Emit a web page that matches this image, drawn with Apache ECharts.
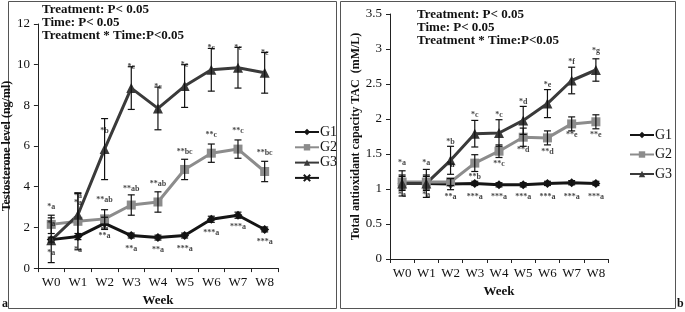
<!DOCTYPE html>
<html><head><meta charset="utf-8">
<script src="https://cdn.jsdelivr.net/npm/echarts@6/dist/echarts.min.js"></script>
<style>html,body{margin:0;padding:0;background:#fff}#c{width:685px;height:312px}</style>
</head><body><div id="c"></div>
<script>
const weeks = ['W0','W1','W2','W3','W4','W5','W6','W7','W8'];
// Left panel: testosterone (ng/ml)
const tG1 = [1.4, 1.55, 2.2, 1.6, 1.5, 1.6, 2.4, 2.6, 1.9];
const tG2 = [2.15, 2.3, 2.42, 3.1, 3.25, 4.85, 5.65, 5.85, 4.75];
const tG3 = [1.37, 2.62, 5.85, 8.85, 7.85, 8.95, 9.75, 9.85, 9.6];
const tG1err = [0.12, 0.15, 0.3, 0.12, 0.12, 0.12, 0.15, 0.15, 0.12];
const tG2err = [0.45, 1.4, 0.45, 0.5, 0.5, 0.5, 0.45, 0.45, 0.5];
const tG3err = [1.1, 1.05, 1.5, 1.05, 1.05, 1.05, 1.05, 1.0, 1.0];
const tLabels = [
  [0,3.0,'*a'],[0,2.15,'*a'],[0,0.75,'*a'],
  [1,3.55,'*a'],[1,3.2,'*a'],[1,0.9,'*a'],
  [2,3.35,'**ab'],[2,1.6,'**a'],[2,6.75,'*b'],
  [3,3.9,'**ab'],[3,0.95,'**a'],[3,9.9,'*c'],
  [4,4.15,'**ab'],[4,0.9,'**a'],[4,8.9,'*c'],
  [5,5.7,'**bc'],[5,0.95,'***a'],[5,10.0,'*c'],
  [6,6.55,'**c'],[6,1.75,'***a'],[6,10.8,'*c'],
  [7,6.75,'**c'],[7,2.0,'***a'],[7,10.8,'*c'],
  [8,5.65,'**bc'],[8,1.27,'***a'],[8,10.6,'*c']
];
// Right panel: TAC (mM/L)
const aG1 = [1.08, 1.08, 1.07, 1.08, 1.06, 1.06, 1.08, 1.09, 1.08];
const aG2 = [1.1, 1.1, 1.1, 1.37, 1.54, 1.74, 1.73, 1.93, 1.96];
const aG3 = [1.08, 1.08, 1.41, 1.79, 1.8, 1.98, 2.22, 2.55, 2.7];
const aG1err = [0.1, 0.1, 0.08, 0.03, 0.03, 0.03, 0.03, 0.03, 0.03];
const aG2err = [0.1, 0.1, 0.05, 0.12, 0.09, 0.13, 0.1, 0.1, 0.1];
const aG3err = [0.18, 0.2, 0.2, 0.19, 0.19, 0.2, 0.2, 0.19, 0.16];
const aLabels = [
  [0,1.37,'*a'],[0,0.91,'*a'],
  [1,1.37,'*a'],[1,0.91,'*a'],
  [2,1.67,'*b'],[2,1.34,'*a'],[2,0.89,'**a'],
  [3,2.06,'*c'],[3,1.17,'**b'],[3,0.89,'***a'],
  [4,2.06,'*c'],[4,1.36,'**c'],[4,0.89,'***a'],
  [5,2.24,'*d'],[5,1.56,'**d'],[5,0.89,'***a'],
  [6,2.49,'*e'],[6,1.53,'**d'],[6,0.89,'***a'],
  [7,2.81,'*f'],[7,1.77,'**e'],[7,0.89,'***a'],
  [8,2.97,'*g'],[8,1.77,'**e'],[8,0.89,'***a']
];
const statText = ['Treatment: P< 0.05','Time: P< 0.05','Treatment * Time:P<0.05'];

const FONT = 'Liberation Serif';
const C1 = '#151515', C2 = '#8c8c8c', C3 = '#3a3a3a';

function errData(v, e){ return v.map((y,i)=>[i, y-e[i], y+e[i]]); }
function errSeries(v, e, xi){
  return {type:'custom', xAxisIndex:xi, yAxisIndex:xi, silent:true, z:5,
    data: errData(v,e),
    renderItem:function(params, api){
      const x = api.value(0);
      const lo = api.coord([x, api.value(1)]);
      const hi = api.coord([x, api.value(2)]);
      const w = 3.5;
      const st = {stroke:'#111', lineWidth:1.2};
      return {type:'group', children:[
        {type:'line', shape:{x1:lo[0],y1:lo[1],x2:hi[0],y2:hi[1]}, style:st},
        {type:'line', shape:{x1:lo[0]-w,y1:lo[1],x2:lo[0]+w,y2:lo[1]}, style:st},
        {type:'line', shape:{x1:hi[0]-w,y1:hi[1],x2:hi[0]+w,y2:hi[1]}, style:st}
      ]};
    }};
}
function lineSeries(name, data, color, symbol, size, xi){
  return {type:'line', name:name, xAxisIndex:xi, yAxisIndex:xi, data:data,
    symbol:symbol, symbolSize:size, showSymbol:true, z:4,
    lineStyle:{color:color, width:3}, itemStyle:{color:color}};
}
function labelSeries(arr, xi){
  return {type:'scatter', xAxisIndex:xi, yAxisIndex:xi, symbolSize:0, silent:true, z:6,
    data: arr.map(a=>({value:[a[0],a[1]], txt:a[2]})),
    label:{show:true, position:'inside', formatter:p=>p.data.txt,
      fontFamily:FONT, fontWeight:'bold', fontSize:8, color:'#111'}};
}
const axisCommonX = {type:'category', data:weeks, boundaryGap:true,
  axisLine:{lineStyle:{color:'#222', width:1}},
  axisTick:{show:true, length:4, lineStyle:{color:'#222'}},
  axisLabel:{fontFamily:FONT, fontSize:13, color:'#111', margin:8, interval:0},
  nameLocation:'middle', nameTextStyle:{fontFamily:FONT, fontWeight:'bold', fontSize:13, color:'#111'},
  splitLine:{show:false}};
const axisCommonY = {type:'value', axisLine:{show:true, lineStyle:{color:'#222', width:1}},
  axisTick:{show:true, length:4, lineStyle:{color:'#222'}},
  axisLabel:{fontFamily:FONT, fontSize:13, color:'#111', margin:8},
  nameLocation:'middle', nameTextStyle:{fontFamily:FONT, fontWeight:'bold', fontSize:12, color:'#111'},
  splitLine:{show:false}};

const chart = echarts.init(document.getElementById('c'), null, {renderer:'canvas'});
chart.setOption({
  animation:false,
  backgroundColor:'#fff',
  grid:[
    {left:32, top:24, width:246, height:246},
    {left:390, top:14, width:218, height:245}
  ],
  xAxis:[
    Object.assign({}, axisCommonX, {gridIndex:0, name:'Week', nameGap:24}),
    Object.assign({}, axisCommonX, {gridIndex:1, name:'Week', nameGap:21})
  ],
  yAxis:[
    Object.assign({}, axisCommonY, {gridIndex:0, min:0, max:12, interval:2, name:'Testosterone level (ng/ml)', nameGap:18}),
    Object.assign({}, axisCommonY, {gridIndex:1, min:0, max:3.5, interval:0.5, name:'Total antioxidant capacity TAC  (mM/L)', nameGap:27})
  ],
  legend:[
    {left:289, top:120, orient:'vertical', itemWidth:24, itemHeight:8, itemGap:1.3,
     textStyle:{fontFamily:FONT, fontSize:14, lineHeight:14, color:'#111', padding:[0,0,0,-4]},
     data:['G1','G2','G3',' ']},
    {left:624, top:123, orient:'vertical', itemWidth:24, itemHeight:8, itemGap:5.5,
     textStyle:{fontFamily:FONT, fontSize:14, lineHeight:14, color:'#111', padding:[0,0,0,-4]},
     data:['G1 ','G2 ','G3 ']}
  ],
  series:[
    errSeries(tG1, tG1err, 0), errSeries(tG2, tG2err, 0), errSeries(tG3, tG3err, 0),
    lineSeries('G1', tG1, C1, 'diamond', 9, 0),
    lineSeries('G2', tG2, C2, 'rect', 9, 0),
    lineSeries('G3', tG3, C3, 'triangle', 10, 0),
    {type:'line', name:' ', xAxisIndex:0, yAxisIndex:0, data:[], symbol:'path://M0,0L10,10M10,0L0,10', symbolSize:9,
     lineStyle:{color:C1, width:3}, itemStyle:{color:'none', borderColor:C1, borderWidth:1.5}},
    labelSeries(tLabels, 0),
    errSeries(aG1, aG1err, 1), errSeries(aG2, aG2err, 1), errSeries(aG3, aG3err, 1),
    lineSeries('G1 ', aG1, C1, 'diamond', 9, 1),
    lineSeries('G2 ', aG2, C2, 'rect', 9, 1),
    lineSeries('G3 ', aG3, C3, 'triangle', 10, 1),
    labelSeries(aLabels, 1)
  ],
  graphic:[
    {type:'rect', shape:{x:8.5, y:1.5, width:328, height:307}, style:{fill:'none', stroke:'#555', lineWidth:1}, silent:true},
    {type:'rect', shape:{x:340.5, y:1.5, width:335, height:307}, style:{fill:'none', stroke:'#555', lineWidth:1}, silent:true},
    {type:'text', left:2, top:298, style:{text:'a', font:'bold 12px "Liberation Serif"', fill:'#111'}},
    {type:'text', left:677, top:298, style:{text:'b', font:'bold 12px "Liberation Serif"', fill:'#111'}},
    {type:'text', left:42, top:3, style:{text:statText.join('\n'), font:'bold 13px "Liberation Serif"', lineHeight:13, fill:'#111'}},
    {type:'text', left:417, top:8, style:{text:statText.join('\n'), font:'bold 13px "Liberation Serif"', lineHeight:13, fill:'#111'}}
  ]
});
</script></body></html>
